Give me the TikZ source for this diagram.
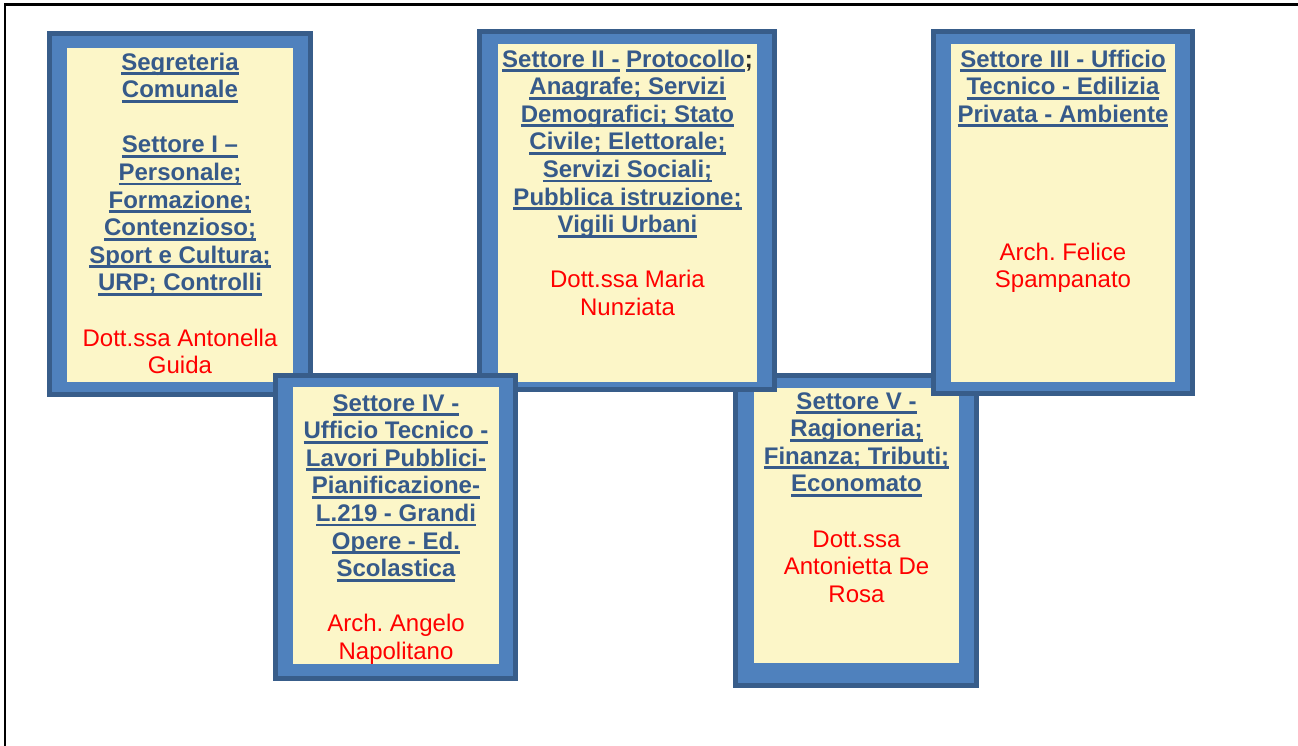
\documentclass[tikz,border=0pt]{standalone}
\usepackage{fontspec}
\setmainfont{Liberation Sans}
\frenchspacing
\definecolor{frameblue}{HTML}{4F81BD}
\definecolor{framedark}{HTML}{385D8A}
\definecolor{boxyellow}{HTML}{FCF6C8}
\definecolor{headblue}{HTML}{365A8A}
\definecolor{namered}{HTML}{FF0000}
\newcommand\ulx[1]{\setbox0=\hbox{#1}\rlap{\rule[-5pt]{\wd0}{2.8pt}}\box0\relax}
\newcommand\hd[1]{\textbf{\ulx{#1}}}
\newcommand\nm[1]{\textcolor{namered}{#1}}
\tikzset{
  outerframe/.style={fill=frameblue, draw=framedark, line width=5pt},
  innerfill/.style={fill=boxyellow},
  boxtext/.style={anchor=north, inner sep=0pt, align=center, text=headblue,
    font=\fontsize{24}{27.6}\selectfont\frenchspacing},
  pageline/.style={draw=black, line width=2.2pt}
}
\begin{document}
\begin{tikzpicture}[x=1pt, y=-1pt]
\useasboundingbox (0,0) rectangle (1298,746);
\fill[white] (0,0) rectangle (1298,746);
% page border lines
\coordinate (tl) at (5,4.5);
\coordinate (tr) at (1298,4.5);
\coordinate (bl) at (5,746);
\draw[pageline] (tr) -- (tl) -- (bl);

% Box 1
\path[outerframe] (49.5,33.5) rectangle (310.5,394.5);
\fill[innerfill] (67,48) rectangle (293,382);
\node[boxtext] (b1) at (180,50.5) {\strut\hd{Segreteria}\\
\hd{Comunale}\\[27.6pt]
\hd{Settore I –}\\
\hd{Personale;}\\
\hd{Formazione;}\\
\hd{Contenzioso;}\\
\hd{Sport e Cultura;}\\
\hd{URP; Controlli}\\[27.6pt]
\nm{Dott.ssa Antonella}\\
\nm{Guida}};

% Box 5
\path[outerframe] (735.5,375.5) rectangle (976.5,685.5);
\fill[innerfill] (754,388) rectangle (959,663);
\node[boxtext] (b5) at (856.5,389.5) {\strut\hd{Settore V -}\\
\hd{Ragioneria;}\\
\hd{Finanza; Tributi;}\\
\hd{Economato}\\[27.6pt]
\nm{Dott.ssa}\\
\nm{Antonietta De}\\
\nm{Rosa}};

% Box 2
\path[outerframe] (479.5,31.5) rectangle (774.5,389.5);
\fill[innerfill] (498,44) rectangle (757,382);
\node[boxtext] (b2) at (627.5,47.5) {\strut\textbf{\ulx{Settore II -} \ulx{Protocollo}\textcolor{black!85}{;}}\\
\hd{Anagrafe; Servizi}\\
\hd{Demografici; Stato}\\
\hd{Civile; Elettorale;}\\
\hd{Servizi Sociali;}\\
\hd{Pubblica istruzione;}\\
\hd{Vigili Urbani}\\[27.6pt]
\nm{Dott.ssa Maria}\\
\nm{Nunziata}};

% Box 3
\path[outerframe] (933.5,31.5) rectangle (1192.5,393.5);
\fill[innerfill] (951,44) rectangle (1175,382);
\node[boxtext] (b3) at (1063,47.5) {\strut\hd{Settore III - Ufficio}\\
\hd{Tecnico - Edilizia}\\
\hd{Privata - Ambiente}\\[110.4pt]
\nm{Arch. Felice}\\
\nm{Spampanato}};

% Box 4
\path[outerframe] (275.5,375.5) rectangle (515.5,678.5);
\fill[innerfill] (293,387) rectangle (499,664);
\node[boxtext] (b4) at (396,391.5) {\strut\hd{Settore IV -}\\
\hd{Ufficio Tecnico -}\\
\hd{Lavori Pubblici-}\\
\hd{Pianificazione-}\\
\hd{L.219 - Grandi}\\
\hd{Opere - Ed.}\\
\hd{Scolastica}\\[27.6pt]
\nm{Arch. Angelo}\\
\nm{Napolitano}};
\end{tikzpicture}
\end{document}
